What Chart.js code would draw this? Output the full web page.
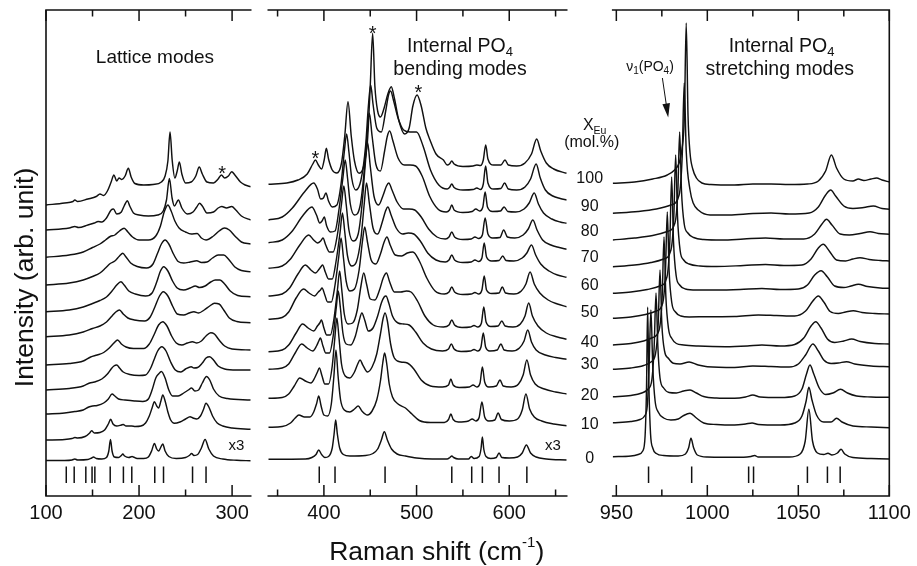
<!DOCTYPE html>
<html>
<head>
<meta charset="utf-8">
<title>Raman spectra of (La,Eu)PO4</title>
<script src="https://cdn.jsdelivr.net/npm/chart.js@4.4.1/dist/chart.umd.min.js"></script>
<style>
  html, body { margin: 0; padding: 0; background: #fff; }
  #stage { position: relative; width: 917px; height: 566px; }
  #stage canvas { position: absolute; left: 0; top: 0; }
</style>
</head>
<body>
<div id="stage">
  <canvas id="lattice" width="917" height="566"></canvas>
  <canvas id="bending" width="917" height="566"></canvas>
  <canvas id="stretching" width="917" height="566"></canvas>
</div>
<script>
// Eu content of each stacked spectrum, bottom to top (mol.%)
const compositions = [0, 10, 20, 30, 40, 50, 60, 70, 80, 90, 100];

// x ranges and tick values (cm-1)
const latticeRange = [100, 320];
const bendingRange = [340, 662];
const stretchRange = [948, 1100];
const latticeLabels = [100, 200, 300];
const bendingLabels = [400, 500, 600];
const stretchLabels = [950, 1000, 1050, 1100];
const latticeMinor = [150, 250];
const bendingMinor = [350, 450, 550, 650];
const stretchMinor = [975, 1025, 1075];

// calculated band positions (short vertical bars under the spectra)
const latticeBars = [121.8, 130.3, 142.8, 149.5, 152.5, 169, 183.2, 192.2, 216.9, 226.3, 257.5, 272];
const bendingBars = [395, 412, 466, 538, 559.5, 571, 589, 619];
const stretchBars = [967.7, 991.4, 1022.7, 1025.4, 1055, 1066, 1073];
const barSpan = [13, 29.5];

// ---- lattice modes, stacked intensity (arb. unit) ----
const latt0 = [[100,35.5],[120,35.5],[128,36],[131,37],[134,36],[145,36.5],[149,38],[151,39],[154,37.5],[160,37],[165,38.5],[167.5,45],[169.3,56.5],[171,45],[173.5,39],[178,38.5],[181,40.5],[182.5,42],[184.5,40],[189,38.5],[192.5,39.5],[194,39],[198,37.5],[205,37.5],[210,39],[213.5,45],[216.5,52.5],[219,47],[221,45],[223,48],[225.5,52],[228,45],[232,39.5],[240,37.5],[250,38.5],[254,40.5],[256.5,42.5],[259,40.5],[263,41.5],[267,48],[271,56.5],[275,47],[280,40],[290,37],[305,35.7],[320,35.3]];
const latt10 = [[100,56],[120,56.5],[128,57.5],[131,58.5],[134,58],[142,59.5],[147,63],[149,65.3],[152,63],[158,63.5],[163,66],[167,72],[169.5,76.7],[172,72],[176,70],[181,71],[183,71.5],[186,70],[192,70],[196,69.5],[202,70],[207,73],[211,80],[214,88],[216.5,94.3],[219,90],[221,88],[223.5,95],[225.5,101],[228,95],[231,84],[234,76],[238,72.7],[244,74],[250,77],[254.8,79.3],[258,78],[262,77],[266,80],[269,86],[272,92.7],[275,89],[279,80],[284,73],[290,70],[300,68],[320,66.7]];
const latt20 = [[100,82],[120,83],[131,84.5],[140,86],[146,89],[150,90],[155,90.5],[162,93],[167,97],[171,102],[174,100],[178,97],[185,96],[195,95],[204,94.5],[210,97],[214,106],[218,118],[221,122],[224,124.5],[228,118],[232,106],[236,100],[242,100],[248,103],[253,106],[256.5,108],[260,105],[264,106],[268,113],[272.5,119.5],[276,116],[280,107],[286,100],[295,97.5],[320,96]];
const latt30 = [[100,106],[125,107.5],[140,110],[147,113],[152,114],[160,117],[166,122],[170,127],[173,130],[176,131],[179,128],[183,124],[190,121.5],[200,120.5],[207,121],[212,127],[216,136],[220,145],[224.5,149.3],[229,145],[234,134],[239,126],[245,124],[250,127],[256,129.3],[259,128],[263,128.5],[268,133],[272,138],[276,139.3],[280,136],[285,130],[292,127],[305,126],[320,126]];
const latt40 = [[100,131],[125,132.5],[140,135],[148,139],[155,141],[162,143.5],[168,148],[173,153],[177,156],[181,152],[186,149],[194,147.5],[205,147.5],[211,152],[216,161],[221,171],[225.5,174.3],[230,170],[235,160],[240,153],[246,151],[252,153],[257.5,154.3],[262,153],[267,155],[272,160],[277,163.3],[281,162],[286,156],[292,150],[300,147],[320,146]];
const latt50 = [[100,159.3],[125,161],[140,164],[150,167.5],[158,170],[165,174],[171,180],[175,184],[179,186],[183,182],[188,178],[195,176],[206,175],[212,179],[217,189],[222,200],[226,204.3],[231,200],[236,190],[241,182],[248,181],[254,183],[259,184.3],[264,183],[270,186],[276,190],[281,192.7],[286,192],[291,186],[297,178],[305,174.5],[320,173.3]];
const latt60 = [[100,184.3],[125,186],[140,189],[150,192.5],[158,195.5],[165,199],[171,205],[176,211],[180.5,214.3],[184,211],[189,205],[196,202],[207,200],[214,203],[219,214],[223,225],[226.5,229.3],[231,225],[236,215],[241,208],[248,206],[255,208],[260.5,210],[265,208.5],[271,210],[277,214],[282,216],[287,216],[292,212],[298,205],[306,200.5],[320,199.3]];
const latt70 = [[100,211],[125,213],[140,216],[150,219.5],[158,223],[164,228],[169,232.5],[174,235],[179,240],[182.5,242.7],[186,239],[191,233],[198,229.5],[208,228],[215,232],[220,243],[224,252],[228,256],[232,252],[237,242],[242,234.5],[248,233],[255,234],[262,235.3],[267,233.5],[273,234],[279,238],[285,241],[291,241],[296,237],[303,229],[310,225.5],[320,224.3]];
const latt80 = [[100,238.7],[125,241],[140,244],[150,248.5],[158,252],[164,256],[169,259.5],[174,261],[179,265],[184,267.7],[188,264],[193,259],[200,256],[210,256],[218,260],[223,270],[227,284],[231,291],[234.5,285],[238.5,275],[243,268],[250,264],[256,262],[262.5,262.5],[267,258],[272,256],[280,260],[286,265],[292,268],[297,266],[303,260],[310,254],[320,252]];
const latt90 = [[100,266],[125,268],[131,269.5],[135,268.5],[145,271],[152,273],[156,274.5],[160,274],[165,278],[170,286],[172.5,287],[176,282],[181,284],[184,290],[187.5,295.3],[190,290],[194,283],[200,281],[210,280],[220,281],[226,285],[229.5,296],[232.6,317.5],[235.5,298],[238,290],[242.3,296],[246,288],[252,282],[258,284],[262,289],[265,292.7],[268,290],[273,283],[280,284],[285,288],[289,289.5],[294,288],[299.6,289.5],[304,286],[310,280],[320,276]];
const latt100 = [[100,291],[120,293],[129,294.5],[131,296],[134,294.5],[145,297],[154,299.5],[158,302],[162,300.5],[166,305],[170,314],[173,321],[176,315],[178.5,318],[181.5,316.5],[185,320],[188.5,327.7],[191.5,319],[195.5,312.5],[205,311],[215,311.5],[224,314],[228,320],[231,335],[233.3,364],[235.6,336],[238.5,318],[241,325],[243.3,334],[246,322],[250,313],[256,314],[261,320],[264.7,329],[268,322],[273,314],[280,313],[285,317],[288.5,321],[292,318],[296,320],[299.6,324.3],[303,321],[309,314],[314,311],[320,309.3]];

// ---- internal PO4 bending modes ----
const bend0 = [[340,36.7],[380,37],[387,38.5],[391.5,41.5],[394.4,46],[397.5,41.5],[401,38.5],[405,39.5],[409,48],[411,62],[412.7,76],[414.5,62],[417,48],[421,41.5],[428,40],[445,40.5],[453,42.5],[458,47],[462,56],[465.2,64.3],[468.5,56],[473,47],[479,42],[488,40],[500,38],[517,37],[533,37],[536,38.5],[538,40],[540,38.5],[545,37],[556,37],[559,39.5],[562,37.5],[567.5,39.5],[569.5,47],[571,59],[572.5,47],[575,39.5],[580,37.5],[586,38.5],[589,43],[592,38.5],[600,38],[609,39],[614,43],[618.5,51],[623,43],[629,39],[640,37],[662,36]];
const bend10 = [[340,68.7],[355,69.5],[364,73],[369,78],[373,81],[379,79],[385,79],[389,84],[392,92],[394.4,100],[397,90],[400,81],[404,80],[408,92],[410.8,120],[413,146],[415.3,120],[418,96],[422,86],[428,84],[433,87],[437,90],[441,85],[447,81],[452,85],[457,96],[461,115],[463.5,133],[465.5,143],[467.7,133],[470.5,112],[474,99],[480,92],[488,88],[495,82],[503,75.5],[515,73.5],[530,73.5],[534.5,76.5],[537,82],[539.5,76.5],[545,74],[556,75],[560,77],[564,75],[567.5,78.5],[570.5,94],[573.5,79],[578,75],[584.5,76],[588,83],[591.5,76.5],[600,75],[609,77],[614,86],[618,102],[622,87],[627,79],[635,75],[648,72],[662,70.3]];
const bend20 = [[340,97.7],[355,98.5],[362,102],[368,110],[374,118],[380,115],[386,113],[390,118],[393,124],[395.1,128],[398,120],[401,112],[405,112],[409,130],[411.8,158],[414,178],[416.3,158],[419,132],[423,120],[428,118],[433,124],[436.5,132],[439,136],[442,131],[447,124],[452,129],[457,142],[461,162],[464,178],[466,183],[468.5,175],[472,152],[476,138],[483,134],[490,133],[497,127],[505,116],[515,110],[528,109],[534.5,111],[537,117],[539.5,111],[546,108.5],[557,109],[561,111],[565,109],[568.5,113],[571,129],[573.5,114],[578,109],[586,110],[590,116],[593.5,110],[602,109],[610,112],[615,121],[619,136],[623,121],[628,112],[638,107],[650,104],[662,102]];
const bend30 = [[340,126.7],[355,128],[362,132],[369,143],[376,152],[382,148],[388,145],[392,150],[394.5,155],[396.2,158],[399,150],[402,143],[406,143],[410,160],[413.3,188],[415.5,205],[417.8,188],[420.5,163],[424,152],[429,151],[434,160],[438,175],[441,183],[444,176],[448,165],[453,168],[458,180],[462,193],[465,199],[467,200],[470,193],[474,180],[480,173],[486,172],[492,171],[499,164],[507,153],[516,147],[528,145],[534.5,147],[537.5,152],[540.5,147],[548,144.5],[558,145],[562,146.5],[566,145],[569.5,149],[572,163],[574.5,149],[579,145],[587,146],[591,152],[594.5,146],[603,145],[611,148],[616,155],[620,166],[624,154],[629,146],[639,141],[650,138.5],[662,136.7]];
const bend40 = [[340,144.3],[355,146],[362,151],[370,163],[377,172],[383,168],[389,165],[393,170],[395.5,173],[397.3,176],[400,168],[403,161],[407,161],[411,178],[414.6,206],[417,225],[419.3,206],[422,182],[426,172],[431,173],[436,186],[440,210],[443,223],[446,212],[450,197],[455,196],[460,206],[464,218],[467.5,223],[471,214],[476,204],[483,204],[489,205],[494,204],[501,195],[509,180],[518,171],[529,169],[535,171],[538,176],[541,171],[549,168.5],[558,169],[562,170.5],[566,169],[570,173],[572.5,189],[575,174],[580,169.5],[588,170],[592,175],[595.5,170],[604,169],[612,172],[617,180],[621,193],[625,180],[631,170],[640,163],[652,159],[662,156.7]];
const bend50 = [[340,176.7],[355,178.5],[362,184],[370,198],[378,207],[384,203],[390,200],[394,204],[396.3,206],[398,208],[401,201],[404,194],[408,194],[412,211],[416,239],[418.5,258],[421,239],[424,215],[428,205],[433,207],[438,226],[441.5,254],[444,269],[447,254],[451,236],[456,232],[461,242],[465,254],[468,259],[471.5,251],[477,241],[484,240],[490,243],[496,244],[503,235],[511,218],[520,205],[530,202],[535,204],[538,209],[541,204],[550,201.5],[559,202],[563,203.5],[567,202],[570.5,206],[573,220],[575.5,206],[581,202.5],[589,203],[592.5,209],[596,203],[605,202],[613,205],[618,212],[622.5,224],[627,212],[633,203],[642,196],[652,192],[662,189.3]];
const bend60 = [[340,200],[355,202],[363,208],[372,222],[380,231],[386,226],[391,223],[395,227],[397,229.5],[398.6,231],[401.5,224],[405,217],[409,217],[413,234],[417.5,264],[420,283],[422.5,264],[425.5,240],[430,230],[435,234],[440,258],[443.5,292],[446,313],[449,293],[453,268],[458,262],[463,274],[466.5,285],[469,289],[472.5,281],[478,268],[485,262],[491,263],[497,262],[504,255],[512,243],[521,236],[531,234],[535,236],[538,241],[541,236],[550,233.5],[559,234],[563,236],[567,234.5],[570.5,238],[573,253],[575.5,239],[581,235],[589,235.5],[593,240],[596.5,235.5],[605,235],[614,238],[619,243],[624,251],[628.5,241],[634,232],[643,225],[652,221],[662,218.7]];
const bend70 = [[340,227.7],[355,230],[364,237],[374,251],[383.6,261],[389,256],[393,253],[396.5,255],[398,257],[399,258],[402,251],[406,244],[410,244],[414.5,261],[419,292],[421.5,310],[424,292],[427,266],[431.5,255],[437,262],[441,290],[444.5,330],[447,354],[450,330],[454,300],[459,291],[464,301],[467.5,310],[470,313],[473.5,306],[479,294],[486,287],[492,287],[498,286],[505,279],[513,267],[522,259],[531,257],[535,259],[538,264],[541,259],[550,256.5],[559,257],[563,259],[567,257.5],[571,261],[574,278],[577,262],[582,258],[590,258.5],[594,266],[598,259],[606,258],[615,261],[620.5,267],[625.5,276],[630,266],[636,256],[645,251],[654,248.5],[662,246.7]];
const bend80 = [[340,253.3],[355,256],[365,264],[377,280],[387,289],[392,281],[395.5,273],[398,275],[400.4,279],[403,270],[407,264],[412,265],[416.5,288],[420.5,318],[423,336],[425.5,318],[428.5,292],[433,281],[439,290],[443,320],[446.5,360],[449,383],[452,360],[456,332],[461,325],[465.5,345],[468.5,360],[471,365],[474.5,355],[480,338],[487,331],[493,331],[499,330],[506,320],[514,300],[523,287],[532,284],[535.5,286],[538,291],[540.5,286],[550,283.5],[560,284.5],[564,287],[568,285],[571.5,289],[574,304],[576.5,289],[582,284.5],[590.5,285],[594.5,289],[598.5,284.5],[607,284],[616,287],[621.5,293],[627,303],[631.5,292],[637,283],[646,277],[655,274],[662,272.7]];
const bend90 = [[340,276],[355,279],[366,288],[379,304],[389,313],[393,307],[396.5,297],[399.5,298],[402.2,303],[405,295],[409,289],[414,291],[418.5,312],[422,344],[424.5,362],[427,344],[430,318],[434.5,306],[440,316],[445,350],[448,390],[450.5,411],[453,392],[457,368],[462,364],[466.5,384],[470,402],[472,405],[475,396],[480,378],[486,366],[493,364],[500,364],[507,350],[515,326],[524,311],[533,307],[535.5,308.5],[538,312],[540.5,308.5],[550,306],[561,306.5],[565,308],[569,306.5],[572,312],[574.5,330],[577,313],[583,307],[591,307.5],[595,313],[599,307],[608,306],[617,309],[623,317],[629,332],[633.5,318],[639,306],[647,300],[655,297.5],[662,296]];
const bend100 = [[340,311.7],[360,313],[372,316],[382,322],[388,332],[390.8,336],[394,331],[397.5,327],[400.5,337],[402.6,347.7],[405,337],[409,326],[414,323],[419,333],[422.5,360],[426,394.3],[429.5,360],[433,335],[438,322.7],[443,330],[447,355],[450,410],[452.6,462.7],[455,410],[458,385],[461,379],[465,388],[469,402],[472.7,409.3],[476,398],[481,375],[487,362],[492,368],[496,390],[500.5,401],[505,390],[510,368],[514.5,356],[521,342],[529,336],[533,331],[535.5,332],[538,335],[540.5,332],[550,329.5],[561,330],[565,331],[569,330.5],[572,336],[574.6,351],[577,337],[583,331],[591,331],[595.4,336],[599,331],[608,330],[617,333],[624,342],[629.6,357],[634,345],[640,333],[648,327],[662,322.7]];

// ---- internal PO4 stretching modes ----
const str0 = [[948,39.3],[958,40],[962,41.5],[964.5,45],[965.8,60],[966.6,110],[967.2,189],[967.9,110],[968.8,62],[970,48],[972,42.5],[976,40.5],[984,40],[988,42],[989.7,48],[991,57.7],[992.5,48],[994.5,41],[1000,39],[1020,38.7],[1024,39.5],[1026,40.5],[1028,39],[1045,39],[1051,42],[1053.8,55],[1055.8,86.7],[1057.8,55],[1060.5,43],[1064,41.5],[1066.3,42.7],[1068.5,41],[1071.5,43],[1073.5,46.7],[1075.5,42],[1080,38.5],[1090,37.5],[1100,37]];
const str10 = [[948,73.3],[958,74.5],[963,76.5],[965.5,80],[967,90],[968,130],[969,186],[970,130],[971.3,95],[973,84],[976,78],[980,76],[984,77],[987,80.5],[990.5,82.7],[994,78],[998,73],[1005,71.5],[1015,71],[1021,72],[1024.6,73],[1028,71.5],[1040,71],[1048,73],[1052,80],[1054.3,95],[1055.8,108.7],[1057.5,96],[1060,81],[1064,74],[1068,74],[1071,77.7],[1074,74],[1080,70],[1090,69],[1100,68.3]];
const str20 = [[948,99.3],[958,100.5],[964,103],[967.5,107],[969.5,116],[970.8,150],[971.8,203],[972.8,150],[974,118],[976,108],[979,103.5],[983,103],[987,105],[990.5,106],[994,103],[998,99.5],[1005,98],[1015,97.7],[1021,99],[1025,101],[1029,99],[1040,98.5],[1048,100],[1052,107],[1054.5,122],[1056.4,131],[1058.5,122],[1061.5,108],[1065,101.5],[1069,103],[1073.2,106.7],[1077,103],[1082,100],[1090,99],[1100,98.7]];
const str30 = [[948,126.7],[958,128],[965,130.5],[969,134],[971.5,142],[973,172],[974,226],[975,172],[976.5,145],[978.6,137.7],[981.3,132.7],[985,132],[990,134],[995,131],[1000,129.3],[1015,128.5],[1025,130],[1035,129.5],[1045,129],[1050,132],[1054,141],[1058,152],[1061,145],[1064,136],[1068,132.5],[1072,133],[1076.5,134.3],[1081,132],[1090,130],[1100,129.3]];
const str40 = [[948,151],[958,152.5],[965,155],[970,158.5],[973.5,166],[975.2,200],[976.2,259],[977.2,200],[978.7,167],[980.5,157.5],[983,152.5],[987,151],[995,150],[1010,149.3],[1022,150],[1030,151],[1040,150],[1048,151.5],[1053,158],[1057,170],[1059.6,174.3],[1062.5,168],[1066,157],[1070,153.5],[1075,155],[1079.3,157],[1084,154.5],[1092,152.5],[1100,152]];
const str50 = [[948,177.7],[958,179],[966,181.5],[972,185],[975.5,193],[977,225],[978,284],[979,225],[980.5,193],[982.5,184],[985.5,180],[990,179],[1000,179.3],[1015,179.5],[1028,181],[1038,180.5],[1048,180],[1054,185],[1058,195],[1061,200],[1064,194],[1067.5,184.5],[1072,182.5],[1076,184],[1080.2,185.3],[1085,183.5],[1092,182.5],[1100,182]];
const str60 = [[948,202.7],[958,204],[967,206.5],[974,210],[977.8,219],[979.4,255],[980.4,319],[981.4,255],[982.9,220],[984.8,211],[988,207],[994,206],[1005,206],[1018,206.5],[1030,207.5],[1040,206.5],[1050,207],[1055,211],[1059,221],[1062.5,225.3],[1066,219],[1070,210],[1075,208.5],[1079,210],[1083,211.7],[1088,209.5],[1095,208],[1100,207.7]];
const str70 = [[948,229.3],[960,231],[969,233.5],[976,237],[980,246],[981.6,280],[982.6,341],[983.6,280],[985.1,245],[987,236],[990,232],[996,230],[1005,229.5],[1020,230.5],[1032,231.5],[1042,230.5],[1052,231],[1057,237],[1061,248],[1063.7,251.7],[1067,245],[1071,236],[1076,235],[1080,237],[1083.9,238.3],[1089,236.5],[1095,235.5],[1100,235]];
const str80 = [[948,256],[960,258],[970,260.5],[978,264.5],[982.2,273],[983.8,305],[984.8,364],[985.8,305],[987.3,272],[989.3,263],[992.5,258.5],[998,256.5],[1008,256],[1020,257],[1032,258],[1042,257],[1053,257],[1059,262],[1063,272],[1065.5,276.7],[1068.5,271],[1073,262],[1078,261],[1084,262.5],[1089.4,264.3],[1094,262.5],[1100,261.7]];
const str90 = [[948,282.7],[962,284.5],[972,287],[980,291],[984.5,301],[986.2,340],[987.3,413],[988.4,345],[990.5,306],[992.3,292.7],[995,286],[1001.5,281],[1012,281],[1025,282.5],[1035,283],[1045,282],[1056,283],[1061,289],[1065,301],[1067.8,306],[1070.5,300],[1075,290],[1080,287.5],[1086,288.5],[1091.2,290],[1096,287.5],[1100,286.7]];
const str100 = [[948,312.7],[960,314],[970,317],[978,321],[982,326],[984.5,333],[986,346],[987.4,380],[988.4,473],[989.4,380],[990.5,343],[992,327],[994,318],[997,313],[1002,311.5],[1015,311],[1025,312],[1035,312],[1045,311.5],[1055,312],[1061,315],[1065,325],[1068.2,341],[1071,328],[1075,317],[1080,315],[1083,317],[1086,315.5],[1090,317],[1093,318],[1096,316],[1100,314]];

const latticeSpectra = [latt0, latt10, latt20, latt30, latt40, latt50, latt60, latt70, latt80, latt90, latt100];
const bendingSpectra = [bend0, bend10, bend20, bend30, bend40, bend50, bend60, bend70, bend80, bend90, bend100];
const stretchSpectra = [str0, str10, str20, str30, str40, str50, str60, str70, str80, str90, str100];

const FONT = '"Liberation Sans", Arial, Helvetica, sans-serif';
const INK = '#111';
Chart.defaults.font.family = FONT;
Chart.defaults.color = INK;

// draw a centred run of text pieces: [text, size, dy]
function drawRuns(ctx, runs, cx, y) {
  let w = 0;
  runs.forEach(r => { ctx.font = r[1] + 'px ' + FONT; w += ctx.measureText(r[0]).width; });
  let x = cx - w / 2;
  runs.forEach(r => {
    ctx.font = r[1] + 'px ' + FONT;
    ctx.fillText(r[0], x, y + (r[2] || 0));
    x += ctx.measureText(r[0]).width;
  });
}

function framePlugin(spec) {
  return {
    id: 'frame',
    afterDatasetsDraw(chart) {
      const { ctx, chartArea: a } = chart;
      const xs = chart.scales.x;
      ctx.save();
      ctx.strokeStyle = INK;
      ctx.lineWidth = 1.6;
      ctx.lineCap = 'square';
      ctx.beginPath();
      ctx.moveTo(a.left, a.top); ctx.lineTo(a.right, a.top);
      ctx.moveTo(a.left, a.bottom); ctx.lineTo(a.right, a.bottom);
      if (spec.left) { ctx.moveTo(a.left, a.top); ctx.lineTo(a.left, a.bottom); }
      if (spec.right) { ctx.moveTo(a.right, a.top); ctx.lineTo(a.right, a.bottom); }
      ctx.stroke();
      ctx.lineCap = 'butt';
      ctx.lineWidth = 1.5;
      ctx.beginPath();
      const tick = (v, len) => {
        const px = xs.getPixelForValue(v);
        ctx.moveTo(px, a.top); ctx.lineTo(px, a.top + len);
        ctx.moveTo(px, a.bottom); ctx.lineTo(px, a.bottom - len);
      };
      spec.labels.forEach(v => tick(v, 11));
      spec.minor.forEach(v => tick(v, 6.5));
      ctx.stroke();
      ctx.restore();
    }
  };
}

function notesPlugin(spec) {
  return {
    id: 'notes',
    afterDraw(chart) {
      const { ctx, scales: { x, y } } = chart;
      ctx.save();
      ctx.fillStyle = INK;
      ctx.strokeStyle = INK;
      ctx.textBaseline = 'alphabetic';
      ctx.textAlign = 'left';
      spec.notes.forEach(n => drawRuns(ctx, n.runs, x.getPixelForValue(n.x), y.getPixelForValue(n.y)));
      if (spec.extra) spec.extra(chart, ctx);
      ctx.restore();
    }
  };
}

function spectrumSets(list) {
  return list.map((pts, i) => ({
    label: compositions[i] + ' mol.%',
    data: pts,
    borderColor: INK,
    borderWidth: 1.45,
    pointRadius: 0,
    fill: false,
    cubicInterpolationMode: 'monotone'
  }));
}

function barSet(xs) {
  const pts = [];
  xs.forEach(v => { pts.push([v, barSpan[0]], [v, barSpan[1]], [v, null]); });
  return { label: 'calc', data: pts, borderColor: INK, borderWidth: 1.5, pointRadius: 0, tension: 0, spanGaps: false };
}

function makePanel(canvasId, spec) {
  return new Chart(document.getElementById(canvasId), {
    type: 'line',
    data: { datasets: spectrumSets(spec.spectra).concat([barSet(spec.bars)]) },
    options: {
      responsive: false,
      animation: false,
      events: [],
      layout: { padding: { left: spec.area[0], right: 917 - spec.area[1], top: 10, bottom: 0 } },
      plugins: { legend: { display: false }, tooltip: { enabled: false } },
      scales: {
        x: {
          type: 'linear',
          min: spec.range[0],
          max: spec.range[1],
          afterBuildTicks: s => { s.ticks = spec.labels.map(v => ({ value: v })); },
          afterFit: s => { s.height = 70; },
          grid: { display: false, drawTicks: false },
          border: { display: false },
          ticks: { autoSkip: false, maxRotation: 0, padding: 5, color: INK, font: { size: 20 }, callback: v => String(v) }
        },
        y: { type: 'linear', min: 0, max: 486, display: false }
      }
    },
    plugins: [framePlugin(spec), notesPlugin(spec)]
  });
}

const latticeChart = makePanel('lattice', {
  spectra: latticeSpectra, bars: latticeBars, range: latticeRange,
  labels: latticeLabels, minor: latticeMinor, area: [46, 250.7], left: true,
  notes: [
    { runs: [['Lattice modes', 19]], x: 217.1, y: 432.7 },
    { runs: [['*', 20]], x: 289.2, y: 316.5 },
    { runs: [['x3', 15]], x: 304.7, y: 46 }
  ],
  extra(chart, ctx) {
    const a = chart.chartArea;
    ctx.translate(a.left - 13, (a.top + a.bottom) / 2 + 24.5);
    ctx.rotate(-Math.PI / 2);
    ctx.textAlign = 'center';
    ctx.font = '26.5px ' + FONT;
    ctx.fillText('Intensity (arb. unit)', 0, 0);
  }
});

const bendingChart = makePanel('bending', {
  spectra: bendingSpectra, bars: bendingBars, range: bendingRange,
  labels: bendingLabels, minor: bendingMinor, area: [268.3, 566.7],
  notes: [
    { runs: [['Internal PO', 19.5], ['4', 13, 4]], x: 546.9, y: 444.3 },
    { runs: [['bending modes', 19.5]], x: 546.9, y: 421 },
    { runs: [['*', 20]], x: 452.7, y: 456.2 },
    { runs: [['*', 20]], x: 501.9, y: 397.2 },
    { runs: [['*', 20]], x: 390.7, y: 331.2 },
    { runs: [['x3', 15]], x: 647.2, y: 46 }
  ],
  extra(chart, ctx) {
    const a = chart.chartArea;
    drawRuns(ctx, [['Raman shift (cm', 26.5], ['-1', 15, -13], [')', 26.5]], a.left + 168.4, a.bottom + 64);
  }
});

const stretchChart = makePanel('stretching', {
  spectra: stretchSpectra, bars: stretchBars, range: stretchRange,
  labels: stretchLabels, minor: stretchMinor, area: [612.7, 889.3], right: true,
  notes: [
    { runs: [['Internal PO', 19.5], ['4', 13, 4]], x: 1040.8, y: 444.3 },
    { runs: [['stretching modes', 19.5]], x: 1039.8, y: 421 },
    { runs: [['\u03bd', 14], ['1', 10, 3], ['(PO', 14], ['4', 10, 3], [')', 14]], x: 968.5, y: 425 }
  ],
  extra(chart, ctx) {
    const { x, y } = chart.scales;
    // arrow pointing at the nu1 band
    const x0 = x.getPixelForValue(975.3), y0 = y.getPixelForValue(418);
    const x1 = x.getPixelForValue(978.5), y1 = y.getPixelForValue(378.5);
    const ang = Math.atan2(y1 - y0, x1 - x0);
    ctx.lineWidth = 1;
    ctx.beginPath(); ctx.moveTo(x0, y0); ctx.lineTo(x1 - 10 * Math.cos(ang), y1 - 10 * Math.sin(ang)); ctx.stroke();
    ctx.beginPath();
    ctx.moveTo(x1, y1);
    ctx.lineTo(x1 - 14 * Math.cos(ang) + 3.8 * Math.sin(ang), y1 - 14 * Math.sin(ang) - 3.8 * Math.cos(ang));
    ctx.lineTo(x1 - 14 * Math.cos(ang) - 3.8 * Math.sin(ang), y1 - 14 * Math.sin(ang) + 3.8 * Math.cos(ang));
    ctx.closePath(); ctx.fill();

    // composition labels between the bending and stretching panels
    const mid = (bendingChart.chartArea.right + chart.chartArea.left) / 2;
    ctx.textBaseline = 'middle';
    ctx.textAlign = 'center';
    ctx.font = '16px ' + FONT;
    compositions.forEach((c, i) => {
      const b = bendingSpectra[i], s = stretchSpectra[i];
      const v = (b[b.length - 1][1] + s[0][1]) / 2;
      ctx.fillText(String(c), mid, y.getPixelForValue(v));
    });
    ctx.textAlign = 'left';
    ctx.textBaseline = 'alphabetic';
    drawRuns(ctx, [['X', 16], ['Eu', 10.5, 3.5]], mid + 5, y.getPixelForValue(366));
    drawRuns(ctx, [['(mol.%)', 16]], mid + 2, y.getPixelForValue(349.5));
  }
});
</script>
</body>
</html>
